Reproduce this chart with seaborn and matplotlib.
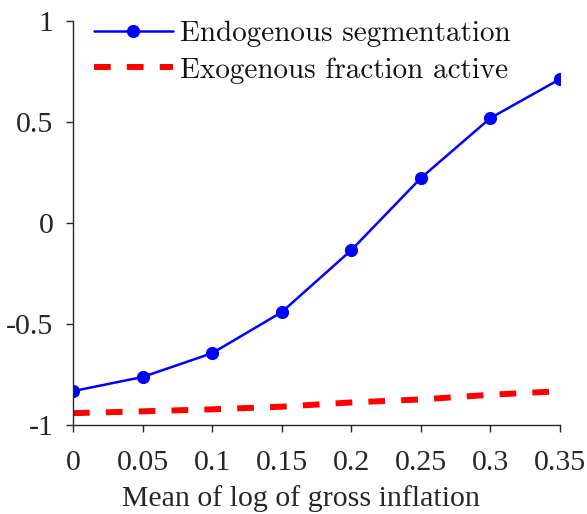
import matplotlib
matplotlib.use("Agg")
import matplotlib.pyplot as plt
import seaborn as sns
import pandas as pd

# Mean of log gross inflation on the horizontal axis
inflation = [0, 0.05, 0.1, 0.15, 0.2, 0.25, 0.3, 0.35]
endogenous = [-0.832, -0.762, -0.644, -0.441, -0.134, 0.223, 0.520, 0.713]
exogenous = [-0.941, -0.932, -0.922, -0.909, -0.888, -0.873, -0.850, -0.832]

xtick_vals = [0, 0.05, 0.1, 0.15, 0.2, 0.25, 0.3, 0.35]
xtick_labels = ["0", "0.05", "0.1", "0.15", "0.2", "0.25", "0.3", "0.35"]
ytick_vals = [-1, -0.5, 0, 0.5, 1]
ytick_labels = ["-1", "-0.5", "0", "0.5", "1"]

sns.set_style("ticks")
plt.rcParams["font.family"] = ["Liberation Serif", "DejaVu Serif"]
plt.rcParams["axes.unicode_minus"] = False

df = pd.DataFrame({"x": inflation, "endo": endogenous, "exo": exogenous})

fig = plt.figure(figsize=(5.87, 5.14), dpi=100)
ax = fig.add_axes([0.1244, 0.173, 0.8296, 0.786])

sns.lineplot(data=df, x="x", y="endo", ax=ax, color="#0000ff", linewidth=1.8,
             marker="o", markersize=9.5, markeredgewidth=0,
             label="Endogenous segmentation")
sns.lineplot(data=df, x="x", y="exo", ax=ax, color="#ff0000", linewidth=4.3,
             label="Exogenous fraction active")
ax.lines[1].set_dashes((2.8, 2.7))

ax.set_xlim(0, 0.35)
ax.set_ylim(-1, 1)
ax.set_xticks(xtick_vals)
ax.set_xticklabels(xtick_labels)
ax.set_yticks(ytick_vals)
ax.set_yticklabels(ytick_labels)
ax.set_xlabel("Mean of log of gross inflation", fontsize=21.5, color="#262626")
ax.xaxis.set_label_coords(0.469, -0.148)
ax.set_ylabel("")

for side in ("top", "right"):
    ax.spines[side].set_visible(False)
for side in ("left", "bottom"):
    ax.spines[side].set_color("#262626")
    ax.spines[side].set_linewidth(1.0)
ax.tick_params(axis="both", direction="out", length=5, width=1.0,
               color="#262626", labelsize=21.5, labelcolor="#262626")
ax.tick_params(axis="x", pad=13)
ax.tick_params(axis="y", pad=9)

leg = ax.legend(loc="upper left", frameon=False,
                prop={"family": "cmr10", "size": 21},
                handlelength=2.7, handletextpad=0.25, labelspacing=0.33,
                borderaxespad=0.0, borderpad=0.0, bbox_to_anchor=(0.043, 1.0))
for t in leg.get_texts():
    t.set_color("#111111")

fig.savefig("out.png", dpi=100)
